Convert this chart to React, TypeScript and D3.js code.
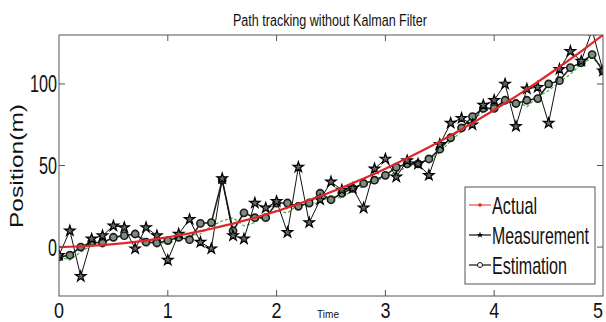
import { useEffect, useRef } from "react";
import * as d3 from "d3";

const times = d3.range(51).map((i) => i / 10);

const actual = [
  0, 0.2, 0.4, 0.8, 1.2, 1.8, 2.4, 3.2, 4, 5, 6, 7.2, 8.4, 9.8, 11.2, 12.8, 14.4, 16.2, 18, 20, 22,
  24.2, 26.4, 28.8, 31.2, 33.8, 36.4, 39.2, 42, 45, 48, 51.2, 54.4, 57.8, 61.2, 64.8, 68.4, 72.2, 76,
  80, 84, 88.2, 92.4, 96.8, 101.2, 105.8, 110.4, 115.2, 120, 125, 130,
];

const measurement = [
  -5, 10, -18, 5, 7, 13, 12, -1, 12, 7, -8, 8, 17, 3, -1, 42, 7, 5, 27, 24, 28, 9, 49, 15, 29, 40, 35,
  36, 24, 48, 54, 43, 53, 51, 44, 63, 76, 79, 75, 87, 90, 100, 74, 97, 98, 76, 109, 120, 114, 133, 108,
];

const estimation = [
  -6, -5, 0, 3, 2.5, 6, 7, 8, 3, 2.5, 4, 6, 4.5, 14.5, 15, 41, 10, 21, 18, 18, 27, 27, 25, 27, 33, 29,
  33, 36, 39, 41, 44, 49, 51, 51, 54, 60, 67, 73, 80, 85, 85, 90, 88, 90, 91, 100, 102, 110, 113, 118, 108,
];

const prediction = [
  -6, -8, -3, 1, 4, 5, 8, 7, 5, 3, 2, 5, 7, 8, 13, 16, 18, 13, 15, 20, 22, 21, 26, 25, 28, 31, 30, 35,
  37, 40, 43, 46, 49, 52, 53, 58, 65, 71, 78, 83, 86, 88, 90, 86, 92, 96, 101, 106, 112, 116, 110,
];

const xTicks = [0, 1, 2, 3, 4, 5];
const yTicks = [0, 50, 100];
const legendLabels = ["Actual", "Measurement", "Estimation"];

export default function App() {
  const ref = useRef<SVGSVGElement>(null);

  useEffect(() => {
    if (!ref.current) return;
    const svg = d3.select(ref.current);
    svg.selectAll("*").remove();

    const left = 59;
    const right = 603;
    const top = 35;
    const bottom = 296;
    const font = "'Liberation Sans', Arial, sans-serif";

    const x = d3.scaleLinear().domain([0, 5]).range([left, right]);
    const y = d3.scaleLinear().domain([-30, 130]).range([bottom, top]);

    // condensed-looking text, squeezed to the width seen in the picture
    const label = (
      parent: d3.Selection<any, unknown, null, undefined>,
      str: string,
      px: number,
      py: number,
      size: number,
      width: number,
      anchor = "start"
    ) =>
      parent
        .append("text")
        .attr("x", px)
        .attr("y", py)
        .attr("text-anchor", anchor)
        .attr("font-family", font)
        .attr("font-size", size)
        .attr("fill", "#111")
        .attr("textLength", width)
        .attr("lengthAdjust", "spacingAndGlyphs")
        .text(str);

    svg.append("rect").attr("width", 606).attr("height", 322).attr("fill", "#fff");

    svg
      .append("clipPath")
      .attr("id", "plot-clip")
      .append("rect")
      .attr("x", left)
      .attr("y", top)
      .attr("width", right - left)
      .attr("height", bottom - top);

    const plot = svg.append("g").attr("clip-path", "url(#plot-clip)");
    const line = d3
      .line<number>()
      .x((_, i) => x(times[i]))
      .y((d) => y(d));

    // green dashed trace
    plot
      .append("path")
      .attr("d", line(prediction))
      .attr("fill", "none")
      .attr("stroke", "#3cb43c")
      .attr("stroke-width", 1.2)
      .attr("stroke-dasharray", "3,2");

    // estimation
    plot
      .append("path")
      .attr("d", line(estimation))
      .attr("fill", "none")
      .attr("stroke", "#222")
      .attr("stroke-width", 1.6);
    plot
      .selectAll(".est")
      .data(estimation)
      .join("circle")
      .attr("class", "est")
      .attr("cx", (_, i) => x(times[i]))
      .attr("cy", (d) => y(d))
      .attr("r", 3.6)
      .attr("fill", "#7f8d7f")
      .attr("stroke", "#1a1a1a")
      .attr("stroke-width", 1.6);

    // measurement
    plot
      .append("path")
      .attr("d", line(measurement))
      .attr("fill", "none")
      .attr("stroke", "#111")
      .attr("stroke-width", 1);
    const star = d3.symbol().type(d3.symbolStar).size(34);
    plot
      .selectAll(".meas")
      .data(measurement)
      .join("path")
      .attr("class", "meas")
      .attr("d", star)
      .attr("transform", (d, i) => `translate(${x(times[i])},${y(d)})`)
      .attr("fill", "#666")
      .attr("stroke", "#000")
      .attr("stroke-width", 1.2);

    // actual
    plot
      .append("path")
      .attr("d", line(actual))
      .attr("fill", "none")
      .attr("stroke", "#e0262a")
      .attr("stroke-width", 2.2);

    // axes box
    svg
      .append("rect")
      .attr("x", left)
      .attr("y", top)
      .attr("width", right - left)
      .attr("height", bottom - top)
      .attr("fill", "none")
      .attr("stroke", "#555")
      .attr("stroke-width", 1);

    const tickLen = 6;
    xTicks.slice(1, -1).forEach((t) => {
      svg.append("line").attr("x1", x(t)).attr("x2", x(t)).attr("y1", bottom).attr("y2", bottom - tickLen).attr("stroke", "#555");
      svg.append("line").attr("x1", x(t)).attr("x2", x(t)).attr("y1", top).attr("y2", top + tickLen).attr("stroke", "#555");
    });
    yTicks.forEach((t) => {
      svg.append("line").attr("x1", left).attr("x2", left + tickLen).attr("y1", y(t)).attr("y2", y(t)).attr("stroke", "#555");
      svg.append("line").attr("x1", right).attr("x2", right - tickLen).attr("y1", y(t)).attr("y2", y(t)).attr("stroke", "#555");
    });

    xTicks.forEach((t) => label(svg, String(t), Math.min(x(t), 598), 318, 22, 10, "middle"));
    yTicks.forEach((t) => label(svg, String(t), left - 2, y(t) + 8.5, 24, String(t).length * 9, "end"));

    label(svg, "Path tracking without Kalman Filter", 330, 26, 16, 194, "middle");

    svg
      .append("text")
      .attr("transform", "rotate(-90)")
      .attr("x", -166)
      .attr("y", 23)
      .attr("text-anchor", "middle")
      .attr("font-family", font)
      .attr("font-size", 19)
      .attr("fill", "#111")
      .attr("textLength", 124)
      .attr("lengthAdjust", "spacingAndGlyphs")
      .text("Position(m)");

    label(svg, "Time", 328, 318, 11, 22, "middle");

    // legend
    const lg = svg.append("g");
    lg.append("rect")
      .attr("x", 465)
      .attr("y", 187)
      .attr("width", 130)
      .attr("height", 97)
      .attr("fill", "#fff")
      .attr("stroke", "#555");
    const rows = [205, 235, 265];
    const widths = [45, 97, 75];
    legendLabels.forEach((name, i) => {
      const ry = rows[i];
      lg.append("line")
        .attr("x1", 469)
        .attr("x2", 491)
        .attr("y1", ry)
        .attr("y2", ry)
        .attr("stroke", i === 0 ? "#e0262a" : "#111")
        .attr("stroke-width", i === 0 ? 1 : 1.2);
      if (i === 0) {
        lg.append("path").attr("d", d3.symbol().type(d3.symbolCross).size(8)()).attr("transform", `translate(480,${ry})`).attr("fill", "#e0262a");
      } else if (i === 1) {
        lg.append("path").attr("d", d3.symbol().type(d3.symbolStar).size(14)()).attr("transform", `translate(480,${ry})`).attr("fill", "#000");
      } else {
        lg.append("circle").attr("cx", 480).attr("cy", ry).attr("r", 2.5).attr("fill", "#fff").attr("stroke", "#111");
      }
      // taller, condensed legend text
      const tg = lg.append("g").attr("transform", `translate(492,${ry + 8.5}) scale(1,1.3)`);
      label(tg, name, 0, 0, 18, widths[i]);
    });
  }, []);

  return <svg ref={ref} width={606} height={322} style={{ position: "absolute", left: 0, top: 0 }} />;
}
